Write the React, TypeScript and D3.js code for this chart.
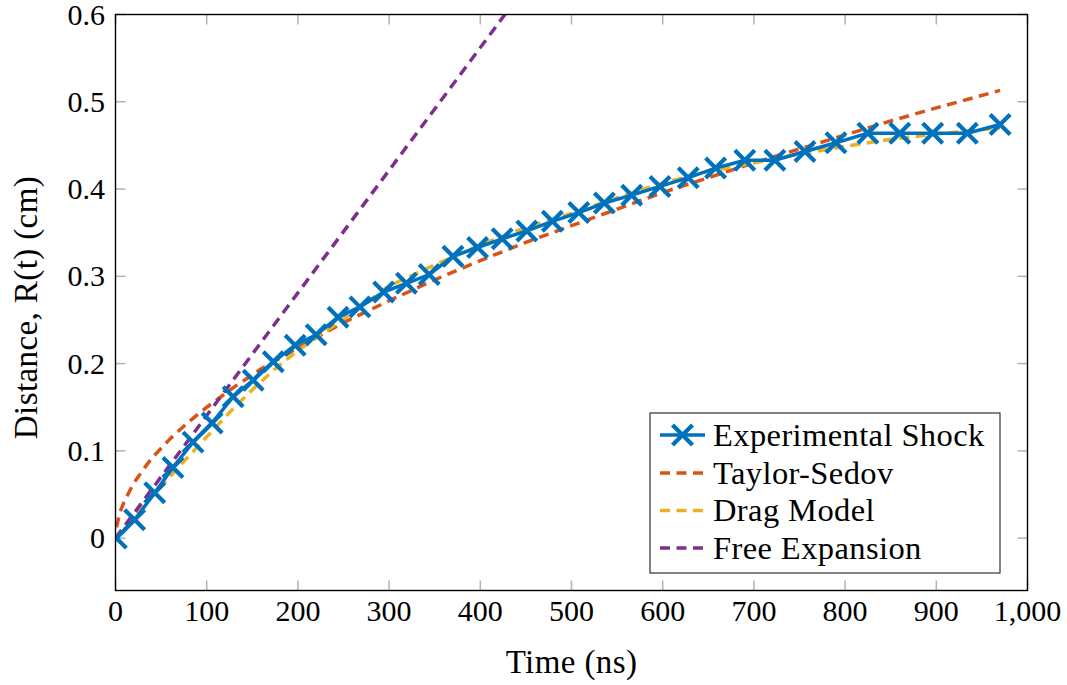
import React from "react";
import * as d3 from "d3";

// Experimental shock front position
const expTime = [1, 21, 43, 63, 85, 106, 129, 151, 173, 197, 220, 244, 268, 294, 319, 344, 370, 397, 424, 451, 479, 508, 536, 566, 597, 628, 658, 690, 723, 756, 790, 825, 860, 896, 934, 970];
const expR = [0, 0.021, 0.052, 0.081, 0.11, 0.132, 0.162, 0.181, 0.202, 0.221, 0.233, 0.253, 0.265, 0.282, 0.292, 0.302, 0.323, 0.333, 0.343, 0.352, 0.363, 0.373, 0.384, 0.393, 0.403, 0.413, 0.424, 0.433, 0.433, 0.443, 0.453, 0.464, 0.464, 0.464, 0.464, 0.474];

// Taylor-Sedov blast wave model
const tsTime = [1, 5, 10, 20, 30, 40, 60, 80, 100, 130, 160, 200, 250, 300, 350, 400, 450, 500, 550, 600, 650, 700, 750, 800, 850, 900, 970];
const tsR = [0.0125, 0.03, 0.043, 0.063, 0.078, 0.092, 0.114, 0.133, 0.15, 0.173, 0.194, 0.218, 0.247, 0.272, 0.296, 0.318, 0.339, 0.358, 0.377, 0.396, 0.413, 0.43, 0.446, 0.462, 0.478, 0.493, 0.513];

// Drag model
const dragTime = [0, 10, 25, 50, 75, 100, 125, 150, 175, 200, 250, 300, 350, 400, 450, 500, 550, 600, 650, 700, 750, 800, 850, 900, 970];
const dragR = [0, 0.012, 0.03, 0.059, 0.088, 0.116, 0.144, 0.17, 0.194, 0.215, 0.251, 0.289, 0.313, 0.336, 0.356, 0.372, 0.39, 0.407, 0.42, 0.43, 0.44, 0.449, 0.457, 0.463, 0.47];

// Free expansion model
const freeTime = [0, 100, 200, 300, 427, 470];
const freeR = [0, 0.1405, 0.281, 0.4215, 0.6, 0.66];

const xTicks = [0, 100, 200, 300, 400, 500, 600, 700, 800, 900, 1000];
const yTicks = [0, 0.1, 0.2, 0.3, 0.4, 0.5, 0.6];

const seriesNames = ["Experimental Shock", "Taylor-Sedov", "Drag Model", "Free Expansion"];
const seriesColors = ["#0072BD", "#D95319", "#EDB120", "#7E2F8E"];

const W = 1067;
const H = 685;
const left = 115.5;
const right = 1027.5;
const top = 14.5;
const bottom = 590.5;
const FONT = "'Liberation Serif', 'Times New Roman', serif";

export default function App() {
  const x = d3.scaleLinear().domain([0, 1000]).range([left, right]);
  const y = d3.scaleLinear().domain([-0.06, 0.6]).range([bottom, top]);

  const line = d3
    .line<[number, number]>()
    .x((d) => x(d[0]))
    .y((d) => y(d[1]));

  const zip = (a: number[], b: number[]) => a.map((v, i) => [v, b[i]] as [number, number]);

  const expPts = zip(expTime, expR);
  const models = [
    { pts: zip(tsTime, tsR), color: seriesColors[1] },
    { pts: zip(dragTime, dragR), color: seriesColors[2] },
    { pts: zip(freeTime, freeR), color: seriesColors[3] },
  ];

  const xFmt = d3.format(",");
  const yFmt = (v: number) => (v === 0 ? "0" : d3.format(".1f")(v));
  const tickLen = 10;
  const tickColor = "#b3b3b3";
  const dash = "10 6.5";
  const lw = 3.5;
  const m = 10;

  const cross = (cx: number, cy: number, key: string) => (
    <path
      key={key}
      d={`M${cx - m},${cy - m}L${cx + m},${cy + m}M${cx - m},${cy + m}L${cx + m},${cy - m}`}
      stroke={seriesColors[0]}
      strokeWidth={4.2}
      fill="none"
    />
  );

  const legX = 650;
  const legY = 413;
  const legW = 350;
  const legH = 160;
  const rowY = [435, 473, 510.5, 548];

  return (
    <svg
      width={W}
      height={H}
      style={{ position: "absolute", left: 0, top: 0, background: "#fff" }}
      fontFamily={FONT}
    >
      <defs>
        <clipPath id="plotArea">
          <rect x={left} y={top} width={right - left} height={bottom - top} />
        </clipPath>
      </defs>
      <rect x={0} y={0} width={W} height={H} fill="#fff" />

      {/* ticks on all four sides, pointing inward */}
      <g stroke={tickColor} strokeWidth={1.5}>
        {xTicks.map((t) => (
          <g key={`xt${t}`}>
            <line x1={x(t)} x2={x(t)} y1={bottom} y2={bottom - tickLen} />
            <line x1={x(t)} x2={x(t)} y1={top} y2={top + tickLen} />
          </g>
        ))}
        {yTicks.map((t) => (
          <g key={`yt${t}`}>
            <line x1={left} x2={left + tickLen} y1={y(t)} y2={y(t)} />
            <line x1={right} x2={right - tickLen} y1={y(t)} y2={y(t)} />
          </g>
        ))}
      </g>

      {/* model curves and measured shock positions */}
      <g clipPath="url(#plotArea)">
        {models.map((s, i) => (
          <path
            key={`m${i}`}
            d={line(s.pts) || ""}
            fill="none"
            stroke={s.color}
            strokeWidth={lw}
            strokeDasharray={dash}
          />
        ))}
        <path d={line(expPts) || ""} fill="none" stroke={seriesColors[0]} strokeWidth={3.5} />
        {expPts.map((p, i) => cross(x(p[0]), y(p[1]), `e${i}`))}
      </g>

      {/* frame */}
      <rect x={left} y={top} width={right - left} height={bottom - top} fill="none" stroke="#000" strokeWidth={1.4} />

      {/* tick labels */}
      <g fontSize={30} fill="#000">
        {xTicks.map((t) => (
          <text key={`xl${t}`} x={x(t)} y={621} textAnchor="middle">
            {xFmt(t)}
          </text>
        ))}
        {yTicks.map((t) => (
          <text key={`yl${t}`} x={105} y={y(t) + 10} textAnchor="end">
            {yFmt(t)}
          </text>
        ))}
      </g>

      {/* axis titles */}
      <text x={(left + right) / 2} y={673} textAnchor="middle" fontSize={33} letterSpacing={0.4}>
        Time (ns)
      </text>
      <text
        transform={`translate(37,${(top + bottom) / 2 + 5}) rotate(-90)`}
        textAnchor="middle"
        fontSize={33}
        letterSpacing={0.4}
      >
        Distance, R(t) (cm)
      </text>

      {/* legend */}
      <g>
        <rect x={legX} y={legY} width={legW} height={legH} fill="#fff" stroke="#333" strokeWidth={1.2} />
        {seriesNames.map((name, i) => (
          <g key={`lg${i}`}>
            {i === 0 ? (
              <>
                <line x1={660} x2={705} y1={rowY[i]} y2={rowY[i]} stroke={seriesColors[0]} strokeWidth={3.5} />
                {cross(682.5, rowY[i], "legx")}
              </>
            ) : (
              <line
                x1={660}
                x2={705}
                y1={rowY[i]}
                y2={rowY[i]}
                stroke={seriesColors[i]}
                strokeWidth={lw}
                strokeDasharray={dash}
              />
            )}
            <text x={713} y={rowY[i] + 10.5} fontSize={32.5} letterSpacing={0.4} fill="#000">
              {name}
            </text>
          </g>
        ))}
      </g>
    </svg>
  );
}
